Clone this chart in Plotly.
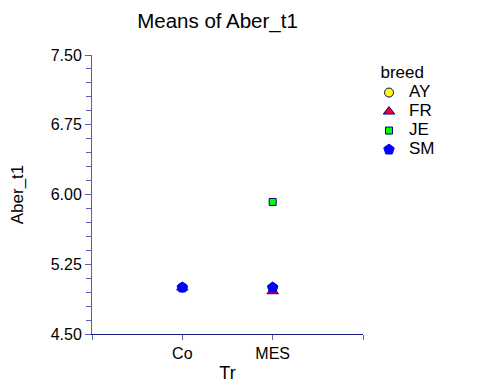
import plotly.graph_objects as go

treatments = ["Co", "MES"]
breeds = ["AY", "FR", "JE", "SM"]
means = {
    "AY": [5.00, 5.00],
    "FR": [5.00, 4.96],
    "JE": [5.00, 5.92],
    "SM": [5.00, 5.00],
}
y_ticks = [4.50, 5.25, 6.00, 6.75, 7.50]

symbols = {"AY": "circle", "FR": "triangle-up", "JE": "square", "SM": "pentagon"}
fills = {"AY": "#FFFF00", "FR": "#FF0000", "JE": "#00FF00", "SM": "#0000FF"}
lines = {"AY": "#000080", "FR": "#0000C0", "JE": "#000080", "SM": "#0000FF"}
sizes = {"AY": 9, "FR": 10, "JE": 7, "SM": 11}

xpos = [i + 1 for i in range(len(treatments))]

fig = go.Figure()
for b in breeds:
    fig.add_trace(go.Scatter(
        x=xpos, y=means[b], mode="markers",
        name=f'<span style="font-size:17px">{b}</span>',
        marker=dict(symbol=symbols[b], color=fills[b], size=sizes[b],
                    line=dict(color=lines[b], width=1)),
    ))

font = "Liberation Sans, Arial, sans-serif"
fig.update_layout(
    width=496, height=392,
    margin=dict(l=92, r=133, t=55, b=46),
    paper_bgcolor="white", plot_bgcolor="white",
    font=dict(family=font, size=16, color="black"),
    title=dict(text="Means of Aber_t1", x=217.5 / 496, xref="container", xanchor="center",
               y=1 - 21 / 392, yref="container", yanchor="middle",
               font=dict(size=20.5, family=font, color="black")),
    showlegend=True,
    legend=dict(title=dict(text="&nbsp;&nbsp;breed", side="top", font=dict(size=17)),
                x=(369 - 92) / 271, xanchor="left", y=(346 - 56) / 291, yanchor="top",
                font=dict(size=12, family=font), tracegroupgap=0, itemwidth=30,
                itemsizing="trace",
                bgcolor="rgba(0,0,0,0)"),
)
fig.update_xaxes(
    range=[0, len(treatments) + 1], showgrid=False, zeroline=False,
    showline=True, linecolor="#1a1a8c", linewidth=1,
    tickvals=[0] + xpos + [len(treatments) + 1],
    ticktext=[""] + treatments + [""],
    ticks="outside", ticklen=5, tickcolor="#6060c0",
    tickfont=dict(size=16),
    title=dict(text="Tr", standoff=5, font=dict(size=18)),
)
fig.update_yaxes(
    range=[y_ticks[0], y_ticks[-1]], showgrid=False, zeroline=False,
    showline=True, linecolor="#5a5ab8", linewidth=1,
    tickvals=y_ticks, ticktext=[f"{v:.2f}" for v in y_ticks],
    ticks="outside", ticklen=6, tickcolor="#5a5ab8",
    tickfont=dict(size=16),
    minor=dict(tick0=4.5, dtick=0.15, ticks="outside", ticklen=5, tickcolor="#5a5ab8"),
    title=dict(text="Aber_t1", standoff=22, font=dict(size=17)),
)
fig.write_html("out.html")
